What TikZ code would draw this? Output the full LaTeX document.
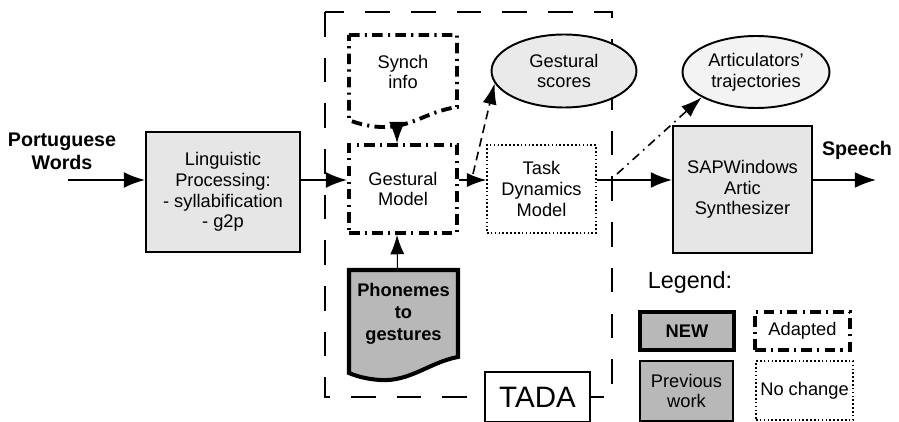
\documentclass[tikz,border=0pt]{standalone}
\usepackage{fontspec}
\setmainfont{Liberation Sans}
\usetikzlibrary{arrows.meta,shapes.geometric}
\definecolor{oldgray}{HTML}{E6E6E6}
\definecolor{newgray}{HTML}{B8B8B8}
\definecolor{scoregray}{HTML}{EAEAEA}
\definecolor{trajgray}{HTML}{F3F3F3}
\begin{document}
\begin{tikzpicture}[x=0.02cm, y=-0.02cm, font=\fontsize{10.4}{11.8}\selectfont,
        box/.style = {draw, line width=1.1pt, align=center, inner sep=0pt},
        prev/.style = {box, fill=oldgray},
        adapted/.style = {draw, line width=2.2pt, dash pattern=on 6pt off 3pt on 1.2pt off 3pt, align=center, inner sep=0pt},
        nochange/.style = {draw, line width=0.9pt, dash pattern=on 0.9pt off 1.3pt, align=center, inner sep=0pt},
        newbox/.style = {draw, line width=2.3pt, fill=newgray, align=center, inner sep=0pt, font=\fontsize{10.4}{12.5}\selectfont\bfseries},
        oval/.style = {ellipse, draw, line width=1.1pt, align=center, inner sep=0pt},
        iolabel/.style = {align=center, inner sep=0pt, font=\fontsize{11.2}{13}\selectfont\bfseries},
        flow/.style = {line width=1.1pt, -{Latex[length=12pt,width=9pt]}},
        thin/.style = {line width=0.6pt, -{Latex[length=11pt,width=8pt]}}]
    \useasboundingbox (0,0) rectangle (899,422);

    \draw[line width=1.1pt, dash pattern=on 14pt off 12pt] (325,12) rectangle (612,397);

    \node[iolabel] (words) at (62,151) {Portuguese\\Words};
    \node[prev, minimum width=3.08cm, minimum height=2.4cm] (ling) at (223,192) {Linguistic\\Processing:\\- syllabification\\- g2p};
    \node[adapted, minimum width=2.16cm, minimum height=1.76cm] (gest) at (403,189) {Gestural\\Model};

    \draw[adapted] (349,35) -- (457,35) -- (457,107) .. controls (425,112) and (412,128) .. (380,127) .. controls (366,126) and (356,123) .. (349,120) -- cycle;
    \node[align=center, inner sep=0pt] (synch) at (403,72) {Synch\\info};
    \coordinate (synchbot) at (397,126);

    \node[nochange, minimum width=2.18cm, minimum height=1.76cm] (task) at (541.5,189) {Task\\Dynamics\\Model};
    \node[oval, fill=scoregray, minimum width=2.9cm, minimum height=1.46cm] (scores) at (564,71) {Gestural\\scores};
    \node[oval, fill=trajgray, minimum width=2.94cm, minimum height=1.44cm] (artic) at (756,72) {Articulators'\\trajectories};
    \node[prev, minimum width=2.78cm, minimum height=2.54cm] (sap) at (742.5,189.5) {SAPWindows\\Artic\\Synthesizer};
    \node[iolabel] (speech) at (857,150) {Speech};

    \draw[line width=2.3pt, fill=newgray] (349,270) -- (458,270) -- (458,357) .. controls (430,362) and (410,382) .. (380,380) .. controls (366,379) and (356,376) .. (349,373) -- cycle;
    \node[align=center, inner sep=0pt, minimum width=2.18cm, minimum height=1.74cm, font=\fontsize{10.4}{12.5}\selectfont\bfseries] (phon) at (403.5,313.5) {Phonemes\\to\\gestures};

    \node[draw, line width=0.9pt, fill=white, minimum width=2.1cm, minimum height=1cm, font=\fontsize{16.8}{20}\selectfont] (tada) at (537.5,397) {TADA};

    \node[font=\fontsize{13.3}{16}\selectfont] (legend) at (690,282) {Legend:};
    \node[newbox, minimum width=1.88cm, minimum height=0.76cm] (new) at (687,331) {NEW};
    \node[adapted, minimum width=1.9cm, minimum height=0.76cm] (adapt) at (802.5,331) {Adapted};
    \node[box, fill=newgray, minimum width=1.86cm, minimum height=1.2cm] (prevw) at (686.5,391) {Previous\\work};
    \node[nochange, minimum width=1.94cm, minimum height=1.18cm] (noch) at (804.5,390.5) {No change};

    \coordinate (inp) at (68,180);
    \coordinate (outp) at (876,180);
    \coordinate (gsout) at (473,174);
    \coordinate (tkout) at (617,174);

    \draw[flow] (inp) -- (inp -| ling.west);
    \draw[flow] (inp -| ling.east) -- (inp -| gest.west);
    \draw[thin] (inp -| gest.east) -- (inp -| task.west);
    \draw[flow] (inp -| task.east) -- (inp -| sap.west);
    \draw[flow] (inp -| sap.east) -- (outp);
    \draw[thin, -{Latex[length=12pt,width=9pt]}] (synchbot) -- (synchbot |- gest.north);
    \draw[thin] ([xshift=-0.12cm]phon.north) -- ([xshift=-0.12cm]gest.south);
    \draw[line width=0.9pt, dash pattern=on 5pt off 3pt, -{Latex[length=12pt,width=8pt]}] (gsout) -- (scores.190);
    \draw[line width=0.9pt, dash pattern=on 5pt off 3pt on 1pt off 3pt, -{Latex[length=12pt,width=8pt]}] (tkout) -- (artic.205);
\end{tikzpicture}
\end{document}
